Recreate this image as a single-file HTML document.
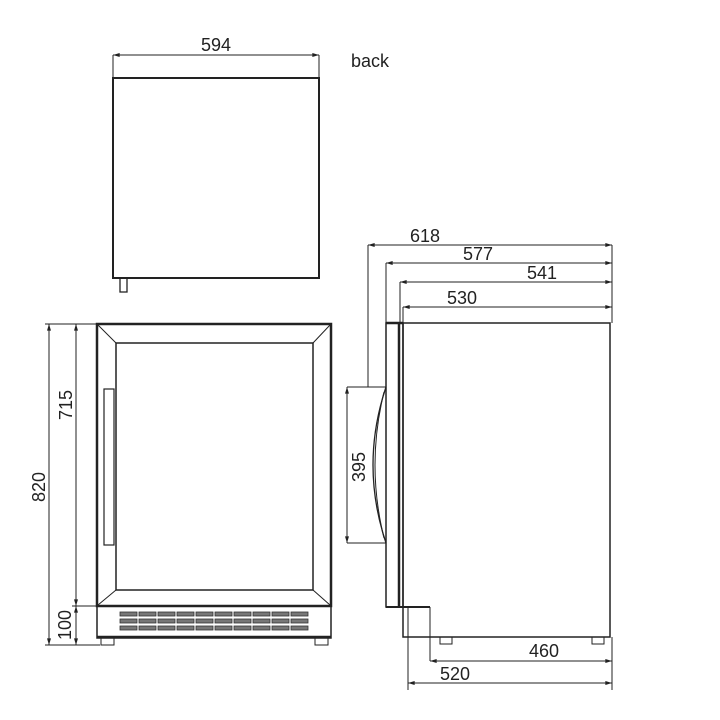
<!DOCTYPE html>
<html><head><meta charset="utf-8"><style>
html,body{margin:0;padding:0;background:#fff;width:720px;height:720px;overflow:hidden}
svg{display:block}
text{font-family:"Liberation Sans",sans-serif;font-size:18px;fill:#222}
</style></head><body>
<svg width="720" height="720" viewBox="0 0 720 720" xmlns="http://www.w3.org/2000/svg">
<defs>
<marker id="a" viewBox="0 0 10 6" refX="10" refY="3" markerWidth="7" markerHeight="4" orient="auto-start-reverse"><path d="M0,0L10,3L0,6z" fill="#222"/></marker>
</defs>
<g stroke="#222" fill="none" stroke-width="1">
<rect x="113" y="78" width="206" height="200" stroke-width="2"/>
<rect x="120" y="278" width="7" height="14" stroke-width="1.3"/>
<line x1="113" y1="55" x2="113" y2="78"/><line x1="319" y1="55" x2="319" y2="78"/>
<line x1="113" y1="55" x2="319" y2="55" marker-start="url(#a)" marker-end="url(#a)"/>

<rect x="97" y="324" width="234" height="282" stroke-width="2.5"/>
<rect x="116" y="343" width="197" height="247" stroke-width="1.5"/>
<line x1="98" y1="325" x2="116" y2="343"/><line x1="330" y1="325" x2="313" y2="343"/>
<line x1="98" y1="605" x2="116" y2="590"/><line x1="330" y1="605" x2="313" y2="590"/>
<rect x="104" y="389" width="10" height="156" stroke-width="1.2"/>
<rect x="97" y="606" width="234" height="32" stroke-width="1.5"/>
<line x1="97" y1="637" x2="331" y2="637" stroke-width="2.5"/>
<rect x="101" y="638" width="13" height="7"/><rect x="315" y="638" width="13" height="7"/>
<line x1="45" y1="324" x2="97" y2="324"/><line x1="72" y1="606" x2="97" y2="606"/><line x1="45" y1="645" x2="100" y2="645"/>
<line x1="49" y1="324" x2="49" y2="645" marker-start="url(#a)" marker-end="url(#a)"/>
<line x1="76" y1="324" x2="76" y2="606" marker-start="url(#a)" marker-end="url(#a)"/>
<line x1="76" y1="606" x2="76" y2="645" marker-start="url(#a)" marker-end="url(#a)"/>

<line x1="368" y1="245" x2="368" y2="387"/>
<line x1="386" y1="263" x2="386" y2="323"/>
<line x1="400" y1="282" x2="400" y2="323"/>
<line x1="403" y1="307" x2="403" y2="323"/>
<line x1="612" y1="245" x2="612" y2="323"/>
<line x1="368" y1="245" x2="612" y2="245" marker-start="url(#a)" marker-end="url(#a)"/>
<line x1="386" y1="263" x2="612" y2="263" marker-start="url(#a)" marker-end="url(#a)"/>
<line x1="400" y1="282" x2="612" y2="282" marker-start="url(#a)" marker-end="url(#a)"/>
<line x1="403" y1="307" x2="612" y2="307" marker-start="url(#a)" marker-end="url(#a)"/>
<rect x="403" y="323" width="207" height="314" stroke-width="1.5"/>
<rect x="386" y="323" width="17" height="284" stroke-width="1.5"/>
<line x1="399" y1="323" x2="399" y2="607" stroke-width="2.5"/>
<line x1="386" y1="323" x2="403" y2="323" stroke-width="2.5"/>
<line x1="386" y1="607" x2="430" y2="607" stroke-width="2"/>
<line x1="430" y1="607" x2="430" y2="661"/>
<line x1="408" y1="607" x2="408" y2="690"/>
<line x1="612" y1="637" x2="612" y2="690"/>
<rect x="440" y="637" width="12" height="7"/><rect x="592" y="637" width="12" height="7"/>
<line x1="430" y1="661" x2="612" y2="661" marker-start="url(#a)" marker-end="url(#a)"/>
<line x1="408" y1="683" x2="612" y2="683" marker-start="url(#a)" marker-end="url(#a)"/>
<line x1="347" y1="387" x2="386" y2="387"/><line x1="347" y1="543" x2="386" y2="543"/>
<line x1="347" y1="387" x2="347" y2="543" marker-start="url(#a)" marker-end="url(#a)"/>
<path d="M386,387 Q360,465 386,543" stroke-width="1.3"/>
<path d="M384,392 Q366,465 384,538" stroke-width="1"/>
</g>
<g fill="#777" stroke="#333" stroke-width="0.8">
<rect x="120" y="612" width="17" height="4"/><rect x="120" y="619" width="17" height="4"/><rect x="120" y="626" width="17" height="4"/>
<rect x="139" y="612" width="17" height="4"/><rect x="139" y="619" width="17" height="4"/><rect x="139" y="626" width="17" height="4"/>
<rect x="158" y="612" width="17" height="4"/><rect x="158" y="619" width="17" height="4"/><rect x="158" y="626" width="17" height="4"/>
<rect x="177" y="612" width="17" height="4"/><rect x="177" y="619" width="17" height="4"/><rect x="177" y="626" width="17" height="4"/>
<rect x="196" y="612" width="17" height="4"/><rect x="196" y="619" width="17" height="4"/><rect x="196" y="626" width="17" height="4"/>
<rect x="215" y="612" width="17" height="4"/><rect x="215" y="619" width="17" height="4"/><rect x="215" y="626" width="17" height="4"/>
<rect x="234" y="612" width="17" height="4"/><rect x="234" y="619" width="17" height="4"/><rect x="234" y="626" width="17" height="4"/>
<rect x="253" y="612" width="17" height="4"/><rect x="253" y="619" width="17" height="4"/><rect x="253" y="626" width="17" height="4"/>
<rect x="272" y="612" width="17" height="4"/><rect x="272" y="619" width="17" height="4"/><rect x="272" y="626" width="17" height="4"/>
<rect x="291" y="612" width="17" height="4"/><rect x="291" y="619" width="17" height="4"/><rect x="291" y="626" width="17" height="4"/>
</g>
<text x="216" y="51" text-anchor="middle">594</text>
<text x="351" y="67">back</text>
<text x="425" y="242" text-anchor="middle">618</text>
<text x="478" y="260" text-anchor="middle">577</text>
<text x="542" y="279" text-anchor="middle">541</text>
<text x="462" y="304" text-anchor="middle">530</text>
<text x="544" y="657" text-anchor="middle">460</text>
<text x="455" y="680" text-anchor="middle">520</text>
<text transform="translate(45,487) rotate(-90)" text-anchor="middle">820</text>
<text transform="translate(72,405) rotate(-90)" text-anchor="middle">715</text>
<text transform="translate(71,625) rotate(-90)" text-anchor="middle">100</text>
<text transform="translate(365,467) rotate(-90)" text-anchor="middle">395</text>
</svg>
</body></html>
